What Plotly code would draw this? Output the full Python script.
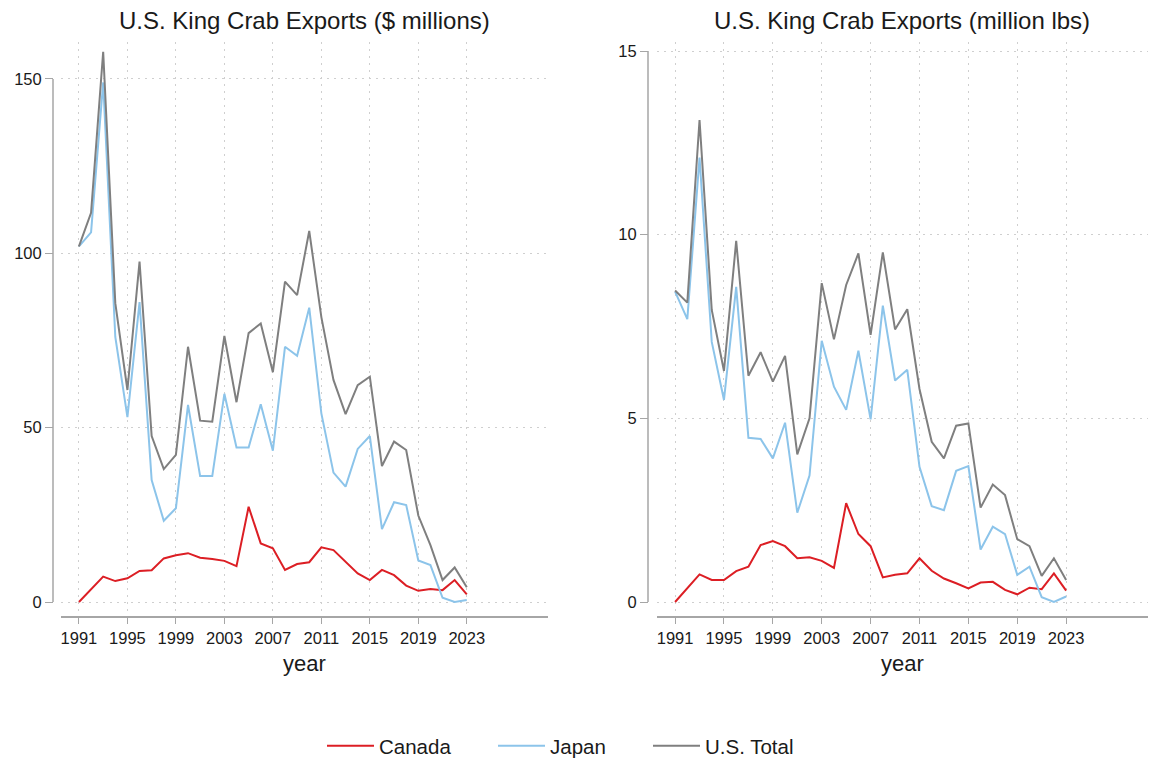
import plotly.graph_objects as go

years = list(range(1991, 2024))

# $ millions
value_canada = [0, 3.6, 7.3, 6.0, 6.8, 8.9, 9.1, 12.5, 13.4, 14.0, 12.7, 12.3, 11.8, 10.3,
                27.3, 16.8, 15.4, 9.2, 10.9, 11.4, 15.7, 14.9, 11.6, 8.2, 6.3, 9.2, 7.7,
                4.7, 3.2, 3.7, 3.4, 6.3, 2.2]
value_japan = [102, 106, 149, 76, 53, 86, 35, 23.3, 26.9, 56.5, 36.1, 36.1, 59.7, 44.3,
               44.3, 56.7, 43.4, 73.2, 70.6, 84.4, 54.1, 37.1, 33.1, 43.9, 47.6, 20.9,
               28.6, 27.8, 11.9, 10.6, 1.2, 0, 0.6]
value_total = [102, 111.6, 157.8, 85.7, 60.8, 97.6, 47.6, 38.1, 42.2, 73.2, 52.0, 51.7,
               76.3, 57.3, 77.1, 79.9, 65.9, 91.9, 88.0, 106.4, 81.7, 63.7, 53.9, 62.2,
               64.6, 39.0, 46.0, 43.6, 24.8, 16.3, 6.3, 9.9, 4.2]

# million lbs
lbs_canada = [0, 0.37, 0.75, 0.60, 0.60, 0.84, 0.96, 1.55, 1.66, 1.52, 1.19, 1.22, 1.12,
              0.93, 2.69, 1.85, 1.52, 0.67, 0.74, 0.78, 1.19, 0.85, 0.64, 0.51, 0.37,
              0.53, 0.55, 0.33, 0.21, 0.39, 0.35, 0.78, 0.31]
lbs_japan = [8.45, 7.70, 12.10, 7.08, 5.5, 8.58, 4.47, 4.44, 3.91, 4.88, 2.43, 3.44, 7.11,
             5.86, 5.23, 6.84, 4.97, 8.07, 6.03, 6.32, 3.68, 2.61, 2.50, 3.57, 3.70, 1.43,
             2.05, 1.85, 0.74, 0.96, 0.13, 0.0, 0.15]
lbs_total = [8.48, 8.15, 13.12, 7.95, 6.29, 9.83, 6.16, 6.80, 6.00, 6.70, 4.02, 5.00, 8.68,
             7.15, 8.63, 9.49, 7.27, 9.52, 7.42, 7.97, 5.80, 4.36, 3.91, 4.80, 4.86, 2.57,
             3.20, 2.91, 1.71, 1.52, 0.71, 1.19, 0.60]

series_names = ["Canada", "Japan", "U.S. Total"]
series_colors = ["#dc1e24", "#8cc4ea", "#7f7f7f"]

x_ticks = list(range(1991, 2024, 4))
y_ticks_left = [0, 50, 100, 150]
y_ticks_right = [0, 5, 10, 15]

titles = ["U.S. King Crab Exports ($ millions)", "U.S. King Crab Exports (million lbs)"]
x_title = "year"

W, H = 1156, 759
FONT = "Liberation Sans, Arial, sans-serif"
AXC = "#a6a6a6"
GRIDC = "#cfcfcf"
TXT = "#1a1a1a"

def px_x(p):
    return p / W

def px_y(p):
    return 1 - p / H

fig = go.Figure()

legend_ids = ["legend", "legend2", "legend3"]
legend_left_px = [322, 493, 648]

left_data = [value_canada, value_japan, value_total]
right_data = [lbs_canada, lbs_japan, lbs_total]
for i, name in enumerate(series_names):
    fig.add_trace(go.Scatter(x=years, y=left_data[i], mode="lines", name=name,
                             line=dict(color=series_colors[i], width=2),
                             xaxis="x", yaxis="y", legendgroup=name, showlegend=True,
                             legend=legend_ids[i]))
for i, name in enumerate(series_names):
    fig.add_trace(go.Scatter(x=years, y=right_data[i], mode="lines", name=name,
                             line=dict(color=series_colors[i], width=2),
                             xaxis="x2", yaxis="y2", legendgroup=name, showlegend=False,
                             legend=legend_ids[i]))

ydom = [px_y(616), px_y(42)]
xrange_ = [1989.52, 2029.7]

xaxis_common = dict(range=xrange_, tickvals=x_ticks, ticks="outside", ticklen=6,
                    tickcolor=AXC, tickwidth=1.3, showline=True, linecolor=AXC, linewidth=1.5,
                    showgrid=True, gridcolor=GRIDC, griddash="2px,5px", gridwidth=1,
                    zeroline=False, automargin=False,
                    tickfont=dict(size=16.5, color=TXT, family=FONT))
yaxis_common = dict(ticks="outside", ticklen=8, tickcolor=AXC, tickwidth=1.3,
                    showline=False, showgrid=True, gridcolor=GRIDC, griddash="2px,5px",
                    gridwidth=1, zeroline=False, anchor="free", automargin=False,
                    tickfont=dict(size=16.5, color=TXT, family=FONT), domain=ydom)

legend_common = dict(orientation="h", xanchor="left", y=px_y(746), yanchor="middle",
                     font=dict(size=20.5, color=TXT, family=FONT), itemwidth=47,
                     bgcolor="rgba(0,0,0,0)", borderwidth=0)

fig.update_layout(
    width=W, height=H,
    margin=dict(l=0, r=0, t=0, b=0, autoexpand=False),
    paper_bgcolor="white", plot_bgcolor="white",
    font=dict(family=FONT, color=TXT),
    xaxis=dict(domain=[px_x(61), px_x(548)], anchor="y", **xaxis_common),
    xaxis2=dict(domain=[px_x(657), px_x(1148)], anchor="y2", **xaxis_common),
    yaxis=dict(range=[-4.015, 160.6], tickvals=y_ticks_left, position=px_x(53),
               **yaxis_common),
    yaxis2=dict(range=[-0.381, 15.245], tickvals=y_ticks_right, position=px_x(648),
                **yaxis_common),
    legend=dict(x=px_x(legend_left_px[0]), **legend_common),
    legend2=dict(x=px_x(legend_left_px[1]), **legend_common),
    legend3=dict(x=px_x(legend_left_px[2]), **legend_common),
    showlegend=True,
)

# Stata-style y axis lines spanning tick range
fig.add_shape(type="line", xref="paper", yref="y", x0=px_x(53), x1=px_x(53),
              y0=y_ticks_left[0], y1=y_ticks_left[-1], line=dict(color=AXC, width=1.5))
fig.add_shape(type="line", xref="paper", yref="y2", x0=px_x(648), x1=px_x(648),
              y0=y_ticks_right[0], y1=y_ticks_right[-1], line=dict(color=AXC, width=1.5))

# titles
for k, (d0, d1) in enumerate([(61, 548), (657, 1148)]):
    cx = (px_x(d0) + px_x(d1)) / 2
    fig.add_annotation(text=titles[k], x=cx, y=px_y(21), xref="paper", yref="paper",
                       showarrow=False, font=dict(size=24, color=TXT, family=FONT),
                       xanchor="center", yanchor="middle")
    fig.add_annotation(text=x_title, x=cx, y=px_y(663), xref="paper", yref="paper",
                       showarrow=False, font=dict(size=22, color=TXT, family=FONT),
                       xanchor="center", yanchor="middle")

fig.write_html("out.html", config={"displayModeBar": False},
               post_script="document.body.style.margin='0';document.body.style.overflow='hidden';")
